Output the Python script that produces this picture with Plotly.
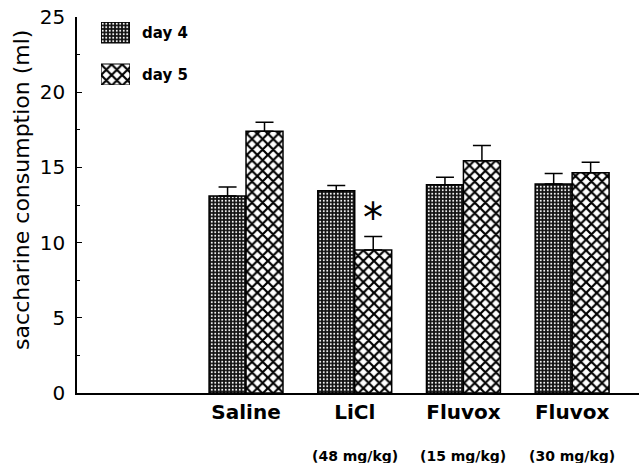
import plotly.graph_objects as go

groups = ["Saline", "LiCl", "Fluvox", "Fluvox"]
doses = ["", "(48 mg/kg)", "(15 mg/kg)", "(30 mg/kg)"]
day4 = [13.1, 13.45, 13.85, 13.9]
day4_err = [0.6, 0.35, 0.5, 0.7]
day5 = [17.4, 9.5, 15.45, 14.65]
day5_err = [0.6, 0.9, 1.0, 0.7]
series_names = ["day 4", "day 5"]
y_ticks = [0, 5, 10, 15, 20, 25]

xpos = list(range(1, len(groups) + 1))

LINE = "black"
pat4 = dict(shape=".", bgcolor="#111111", fgcolor="white", size=3.5, solidity=0.25, fillmode="replace")
pat5 = dict(shape="x", bgcolor="white", fgcolor="black", size=7.5, solidity=0.5, fillmode="replace")

fig = go.Figure()
fig.add_trace(go.Bar(
    x=xpos, y=day4, name=series_names[0], showlegend=False,
    marker=dict(color="#111111", pattern=pat4, line=dict(color=LINE, width=1.5)),
    error_y=dict(type="data", symmetric=False, array=day4_err, arrayminus=[0]*4,
                 color=LINE, thickness=1.5, width=9),
))
fig.add_trace(go.Bar(
    x=xpos, y=day5, name=series_names[1], showlegend=False,
    marker=dict(color="white", pattern=pat5, line=dict(color=LINE, width=1.5)),
    error_y=dict(type="data", symmetric=False, array=day5_err, arrayminus=[0]*4,
                 color=LINE, thickness=1.5, width=9),
))

# legend swatches drawn as bars on a small inset axis
fig.add_trace(go.Bar(x=[1], y=[1], orientation="h", width=0.5, showlegend=False,
                     marker=dict(color="#111111", pattern=pat4, line=dict(color=LINE, width=1.2)),
                     xaxis="x2", yaxis="y2", hoverinfo="skip"))
fig.add_trace(go.Bar(x=[1], y=[0], orientation="h", width=0.5, showlegend=False,
                     marker=dict(color="white", pattern=pat5, line=dict(color=LINE, width=1.2)),
                     xaxis="x2", yaxis="y2", hoverinfo="skip"))

annotations = []
for name, yv in zip(series_names, [0.958, 0.847]):
    annotations.append(dict(text=name, x=0.112, y=yv, xref="paper", yref="paper",
                            xanchor="left", yanchor="middle", showarrow=False,
                            font=dict(family="DejaVu Sans", size=15, color="black", weight="bold")))
for xp, d in zip(xpos, doses):
    if d:
        annotations.append(dict(text=d, x=xp, y=-0.167, xref="x", yref="paper",
                                xanchor="center", yanchor="middle", showarrow=False,
                                font=dict(family="DejaVu Sans", size=14, color="black", weight="bold")))
# significance marker over LiCl day 5
annotations.append(dict(text="*", x=xpos[1] + 0.17, y=11.62, xref="x", yref="y",
                        xanchor="center", yanchor="middle", showarrow=False,
                        font=dict(family="DejaVu Sans", size=40, color="black")))
# y-axis title
annotations.append(dict(text="saccharine consumption (ml)", x=-0.098, y=0.54,
                        xref="paper", yref="paper", textangle=-90,
                        xanchor="center", yanchor="middle", showarrow=False,
                        font=dict(family="DejaVu Sans", size=22, color="black")))

fig.update_layout(
    width=639, height=463,
    margin=dict(l=77, r=0, t=17, b=70),
    paper_bgcolor="white", plot_bgcolor="white",
    barmode="group", bargap=0.32, bargroupgap=0,
    font=dict(family="DejaVu Sans", color="black"),
    annotations=annotations,
    xaxis=dict(range=[-0.555, 4.615], tickmode="array", tickvals=xpos, ticktext=groups,
               showline=True, linecolor=LINE, linewidth=1.5, ticks="", showgrid=False,
               zeroline=False, tickfont=dict(family="DejaVu Sans", size=20, weight="bold"),
               ticklabelstandoff=0, automargin=False),
    yaxis=dict(range=[0, 25], tickmode="array", tickvals=y_ticks,
               showline=True, linecolor=LINE, linewidth=1.5, ticks="inside", ticklen=5,
               tickwidth=1.2, tickcolor=LINE, showgrid=False, zeroline=False,
               minor=dict(ticks="inside", ticklen=3, dtick=2.5, tickwidth=1, tickcolor=LINE),
               tickfont=dict(family="DejaVu Sans", size=20), ticklabelstandoff=6,
               automargin=False),
    xaxis2=dict(domain=[0.0427, 0.0943], range=[0, 1], visible=False, anchor="y2"),
    yaxis2=dict(domain=[0.8191, 0.9867], range=[-0.25, 1.25], visible=False, anchor="x2"),
)

fig.write_html("out.html", config={"displayModeBar": False},
               post_script="document.body.style.margin='0';document.body.style.overflow='hidden';")
